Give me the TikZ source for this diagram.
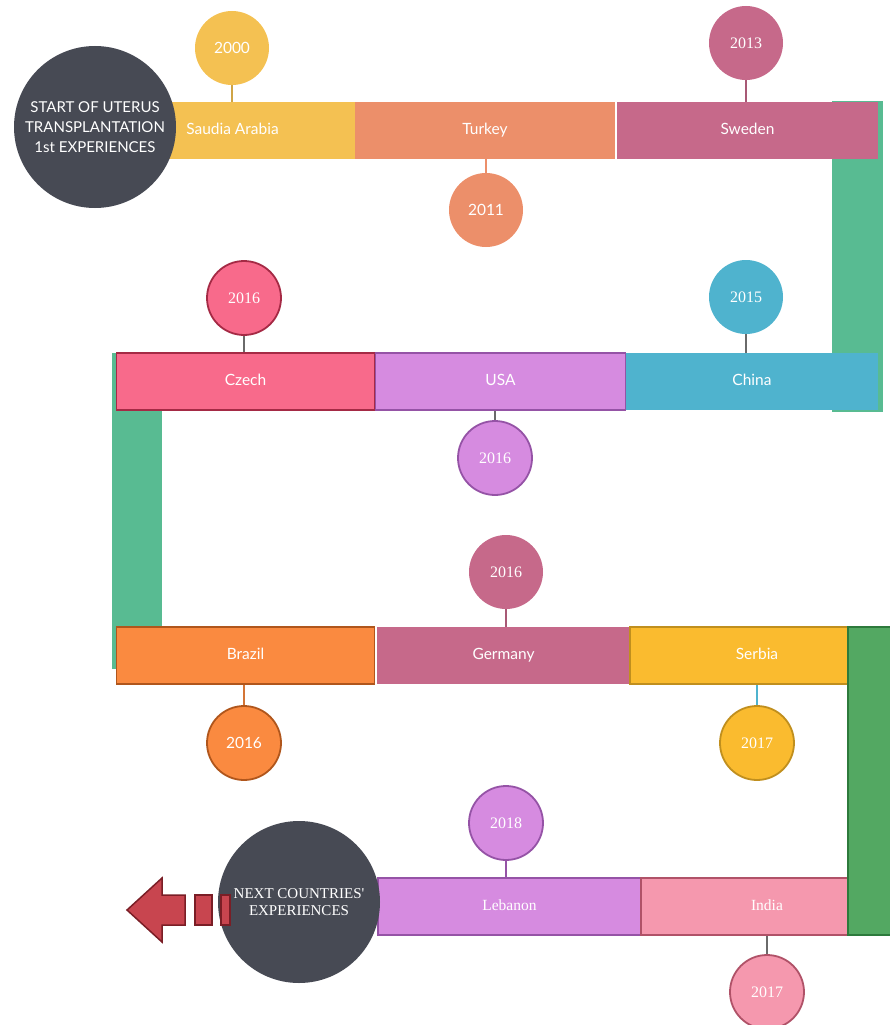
\documentclass[tikz,border=0pt]{standalone}
\usepackage{fontspec}
\newfontfamily\lato{Lato}
\newfontfamily\tms{Liberation Serif}
\definecolor{csaudi}{HTML}{F4C152}
\definecolor{cturkey}{HTML}{EC8F6A}
\definecolor{csweden}{HTML}{C6698A}
\definecolor{cteal}{HTML}{58BB92}
\definecolor{cczech}{HTML}{F86A8B}
\definecolor{bczech}{HTML}{A52A45}
\definecolor{cusa}{HTML}{D68BE0}
\definecolor{busa}{HTML}{9553A6}
\definecolor{cchina}{HTML}{4FB3CE}
\definecolor{cbrazil}{HTML}{FA8A40}
\definecolor{bbrazil}{HTML}{B0561C}
\definecolor{cserbia}{HTML}{FABB2F}
\definecolor{bserbia}{HTML}{C08F1E}
\definecolor{cdgreen}{HTML}{53A862}
\definecolor{bdgreen}{HTML}{2D7A3C}
\definecolor{cindia}{HTML}{F598AE}
\definecolor{bindia}{HTML}{B05268}
\definecolor{cdark}{HTML}{474A54}
\definecolor{carrow}{HTML}{C8454F}
\definecolor{barrow}{HTML}{7A1E26}
\definecolor{cstemgray}{HTML}{6A6A6A}
\tikzset{
  bar/.style={rectangle, minimum height=57pt, inner sep=0pt, text=white, text height=2ex, text depth=0ex, font=\lato\fontsize{15.5}{17}\selectfont},
  sbar/.style={bar, font=\tms\fontsize{15.5}{17}\selectfont},
  yr/.style={circle, minimum size=74pt, inner sep=0pt, text=white, font=\lato\fontsize{15.5}{17}\selectfont},
  syr/.style={yr, font=\tms\fontsize{16}{18}\selectfont},
  stem/.style={line width=2pt},
  bigc/.style={circle, minimum size=162pt, inner sep=0pt, fill=cdark, text=white, align=center},
}
\begin{document}
\begin{tikzpicture}[x=1pt,y=-1pt]
\useasboundingbox (0,0) rectangle (890,1025);
% vertical connectors (behind)
\fill[cteal] (832,101) rectangle (883,412);
\fill[cteal] (112,353) rectangle (162,669);
% row 1
\node[bar, fill=csaudi, minimum width=245pt] (saudi) at (232.5,130.5) {Saudia Arabia};
\node[bar, fill=cturkey, minimum width=260pt] (turkey) at (485,130.5) {Turkey};
\node[bar, fill=csweden, minimum width=261pt] (sweden) at (747.5,130.5) {Sweden};
% row 2
\node[bar, fill=cczech, draw=bczech, line width=1.8pt, minimum width=258pt] (czech) at (245.5,381.5) {Czech};
\node[bar, fill=cusa, draw=busa, line width=1.8pt, minimum width=250pt] (usa) at (500.5,381.5) {USA};
\node[bar, fill=cchina, minimum width=252pt] (china) at (752,381.5) {China};
% row 3
\node[bar, fill=cbrazil, draw=bbrazil, line width=1.8pt, minimum width=258pt] (brazil) at (245.5,655.5) {Brazil};
\node[bar, fill=csweden, minimum width=253pt] (germany) at (503.5,655.5) {Germany};
\node[bar, fill=cserbia, draw=bserbia, line width=1.8pt, minimum width=254pt] (serbia) at (757,655.5) {Serbia};
% row 4
\node[sbar, fill=cusa, draw=busa, line width=1.8pt, minimum width=263pt] (lebanon) at (509.5,906.5) {Lebanon};
\node[sbar, fill=cindia, draw=bindia, line width=1.8pt, minimum width=252pt] (india) at (767,906.5) {India};
% dark green vertical
\filldraw[fill=cdgreen, draw=bdgreen, line width=1.8pt] (848,627) rectangle (892,935);
% big circles
\node[bigc, font=\lato\fontsize{15}{20}\selectfont] (start) at (95,127) {START OF UTERUS\\TRANSPLANTATION\\1st EXPERIENCES};
\node[bigc, font=\tms\fontsize{15}{17}\selectfont] (next) at (299,902) {NEXT COUNTRIES'\\EXPERIENCES};
% year circles
\node[yr, fill=csaudi] (c2000) at (232,48) {2000};
\node[yr, fill=cturkey] (c2011) at (486,210) {2011};
\node[syr, fill=csweden] (c2013) at (746,43) {2013};
\node[syr, fill=cczech, draw=bczech, line width=1.8pt] (c2016a) at (244,298) {2016};
\node[syr, fill=cusa, draw=busa, line width=1.8pt] (c2016b) at (495,458) {2016};
\node[syr, fill=cchina] (c2015) at (746,297) {2015};
\node[syr, fill=csweden] (c2016c) at (506,572) {2016};
\node[yr, fill=cbrazil, draw=bbrazil, line width=1.8pt] (c2016d) at (244,743) {2016};
\node[syr, fill=cserbia, draw=bserbia, line width=1.8pt] (c2017a) at (757,743) {2017};
\node[syr, fill=cusa, draw=busa, line width=1.8pt] (c2018) at (506,823) {2018};
\node[syr, fill=cindia, draw=bindia, line width=1.8pt] (c2017b) at (767,992) {2017};
% stems
\draw[stem, draw=csaudi!85!black] (c2000.south) -- (c2000.south |- saudi.north);
\draw[stem, draw=cturkey] (c2011.north) -- (c2011.north |- turkey.south);
\draw[stem, draw=csweden!85!black] (c2013.south) -- (c2013.south |- sweden.north);
\draw[stem, draw=cstemgray] (c2016a.south) -- (c2016a.south |- czech.north);
\draw[stem, draw=cstemgray] (c2016b.north) -- (c2016b.north |- usa.south);
\draw[stem, draw=cstemgray] (c2015.south) -- (c2015.south |- china.north);
\draw[stem, draw=csweden!85!black] (c2016c.south) -- (c2016c.south |- germany.north);
\draw[stem, draw=cbrazil!85!black] (c2016d.north) -- (c2016d.north |- brazil.south);
\draw[stem, draw=cchina] (c2017a.north) -- (c2017a.north |- serbia.south);
\draw[stem, draw=busa] (c2018.south) -- (c2018.south |- lebanon.north);
\draw[stem, draw=cstemgray] (c2017b.north) -- (c2017b.north |- india.south);
% arrow
\filldraw[fill=carrow, draw=barrow, line width=1.5pt]
  (127,910) -- (162,878) -- (162,895) -- (185,895) -- (185,925) -- (162,925) -- (162,942) -- cycle;
\filldraw[fill=carrow, draw=barrow, line width=1.5pt] (195,895) rectangle (212,925);
\filldraw[fill=carrow, draw=barrow, line width=1.5pt] (221,895) rectangle (230,925);
\end{tikzpicture}
\end{document}
